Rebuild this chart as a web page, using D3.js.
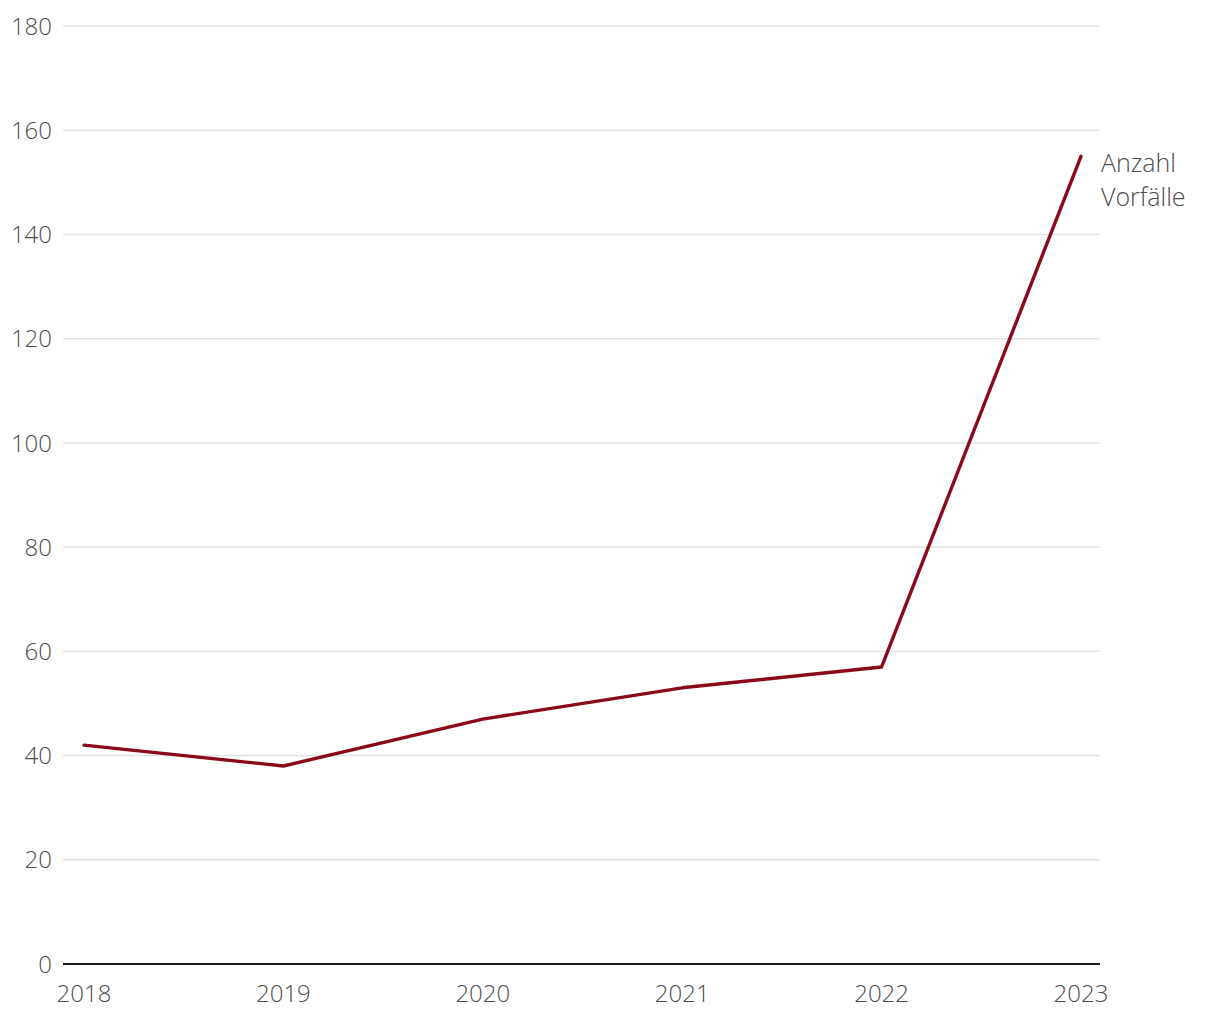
<!DOCTYPE html>
<html>
<head>
<meta charset="utf-8">
<script src="https://cdn.jsdelivr.net/npm/d3@7"></script>
<style>
  body { margin: 0; background: #fff; }
  svg text { font-family: "Open Sans", "Noto Sans", sans-serif; font-weight: 300; fill: #4d4d4d; }
</style>
</head>
<body>
<div id="chart"></div>
<script>
// data
const years = [2018, 2019, 2020, 2021, 2022, 2023];
const incidents = [42, 38, 47, 53, 57, 155];
const yTicks = [0, 20, 40, 60, 80, 100, 120, 140, 160, 180];
const seriesLabel = ["Anzahl", "Vorfälle"];

const width = 1220, height = 1020;
const plotLeft = 63, plotRight = 1100, plotTop = 26, plotBottom = 964;

let svg = d3.select("#chart").append("svg")
    .attr("width", width)
    .attr("height", height);

let x = d3.scalePoint()
    .domain(years)
    .range([84, 1081]);

let y = d3.scaleLinear()
    .domain([0, 180])
    .range([plotBottom, plotTop]);

// gridlines
svg.append("g")
    .selectAll("line")
    .data(yTicks.filter(d => d > 0))
    .join("line")
    .attr("x1", plotLeft)
    .attr("x2", plotRight)
    .attr("y1", d => y(d))
    .attr("y2", d => y(d))
    .attr("stroke", "#e3e3e3")
    .attr("stroke-width", 1.5);

// y labels
svg.append("g")
    .selectAll("text")
    .data(yTicks)
    .join("text")
    .attr("x", 52)
    .attr("y", d => y(d))
    .attr("dy", "0.36em")
    .attr("text-anchor", "end")
    .attr("font-size", 24)
    .text(d => d);

// baseline
svg.append("line")
    .attr("x1", plotLeft)
    .attr("x2", plotRight)
    .attr("y1", y(0))
    .attr("y2", y(0))
    .attr("stroke", "#1a1a1a")
    .attr("stroke-width", 2);

// x labels
svg.append("g")
    .selectAll("text")
    .data(years)
    .join("text")
    .attr("x", d => x(d))
    .attr("y", 1002)
    .attr("text-anchor", "middle")
    .attr("font-size", 24)
    .text(d => d);

// line
let line = d3.line()
    .x((d, i) => x(years[i]))
    .y(d => y(d));

svg.append("path")
    .datum(incidents)
    .attr("d", line)
    .attr("fill", "none")
    .attr("stroke", "#8b0a1a")
    .attr("stroke-width", 3.4)
    .attr("stroke-linejoin", "round")
    .attr("stroke-linecap", "round");

// series label
let lbl = svg.append("text")
    .attr("x", 1101)
    .attr("y", 172)
    .attr("font-size", 25);
lbl.selectAll("tspan")
    .data(seriesLabel)
    .join("tspan")
    .attr("x", 1101)
    .attr("dy", (d, i) => i === 0 ? 0 : 34)
    .text(d => d);
</script>
</body>
</html>
